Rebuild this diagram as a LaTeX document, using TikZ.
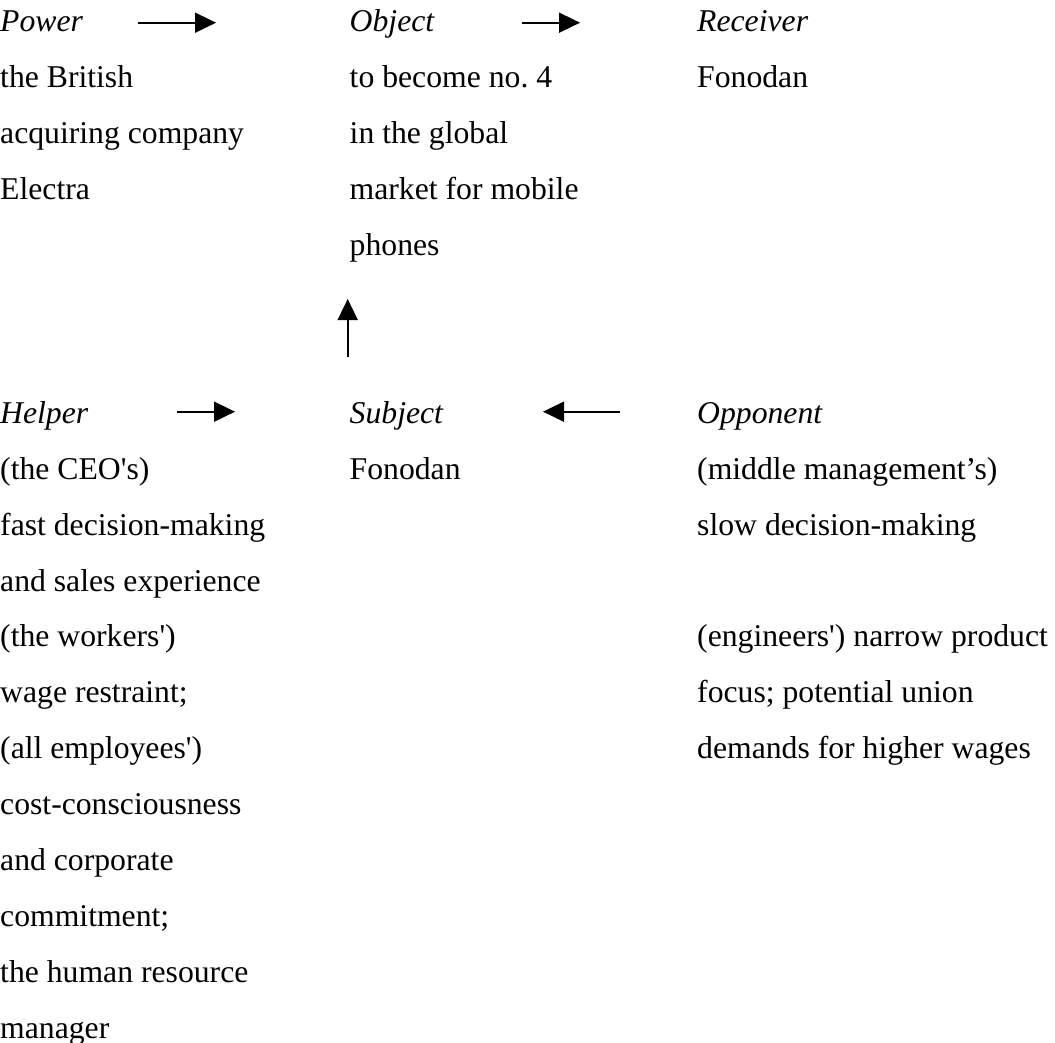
\documentclass[tikz,border=0pt]{standalone}
\usepackage{fontspec}
\setmainfont{Liberation Serif}[Ligatures=TeXOff]
\usetikzlibrary{arrows.meta}
\frenchspacing
\tikzset{
  txt/.style={anchor=base west, inner sep=0pt, font=\fontsize{31.7}{38}\selectfont},
  head/.style={txt, font=\fontsize{31.7}{38}\selectfont\itshape},
  arr/.style={line width=1.8pt, -{Triangle[length=21pt,width=20pt]}}
}
\begin{document}
\begin{tikzpicture}[x=1pt,y=-1pt]
\useasboundingbox (0,0) rectangle (1055,1043);
\def\rowy#1{32+55.9*(#1)}
% headings
\node[head] (power)    at (0,{\rowy{0}})     {Power};
\node[head] (object)   at (349.5,{\rowy{0}}) {Object};
\node[head] (receiver) at (697,{\rowy{0}})   {Receiver};
\node[head] (helper)   at (0,{\rowy{7}})     {Helper};
\node[head] (subject)  at (349.5,{\rowy{7}}) {Subject};
\node[head] (opponent) at (697,{\rowy{7}})   {Opponent};
% power column
\foreach \t [count=\k] in {the British, acquiring company, Electra}
  \node[txt] (pw\k) at (0,{\rowy{\k}}) {\t};
% object column
\foreach \t [count=\k] in {to become no.\ 4, in the global, market for mobile, phones}
  \node[txt] (ob\k) at (349.5,{\rowy{\k}}) {\t};
\node[txt] (rc1) at (697,{\rowy{1}}) {Fonodan};
% helper column
\foreach \t [count=\k] in {(the CEO's), fast decision-making, and sales experience,
   (the workers'), wage restraint;, (all employees'), cost-consciousness,
   and corporate, commitment;, the human resource, manager}
  \node[txt] (hp\k) at (0,{\rowy{7+\k}}) {\t};
\node[txt] (sb1) at (349.5,{\rowy{8}}) {Fonodan};
% opponent column
\node[txt] (op1) at (697,{\rowy{8}})  {(middle management’s)};
\node[txt] (op2) at (697,{\rowy{9}})  {slow decision-making};
\node[txt] (op3) at (697,{\rowy{11}}) {(engineers') narrow product};
\node[txt] (op4) at (697,{\rowy{12}}) {focus; potential union};
\node[txt] (op5) at (697,{\rowy{13}}) {demands for higher wages};
% arrow end points
\coordinate (a1s) at (138,22.7);   \coordinate (a1e) at (216,22.7);
\coordinate (a2s) at (522,22.7);   \coordinate (a2e) at (580,22.7);
\coordinate (a3s) at (177,411.7);  \coordinate (a3e) at (235,411.7);
\coordinate (a4s) at (620,411.7);  \coordinate (a4e) at (543,411.7);
\coordinate (a5s) at (347.7,357);  \coordinate (a5e) at (347.7,299);
\draw[arr] (a1s) -- (a1e);
\draw[arr] (a2s) -- (a2e);
\draw[arr] (a3s) -- (a3e);
\draw[arr] (a4s) -- (a4e);
\draw[arr] (a5s) -- (a5e);
\end{tikzpicture}
\end{document}
